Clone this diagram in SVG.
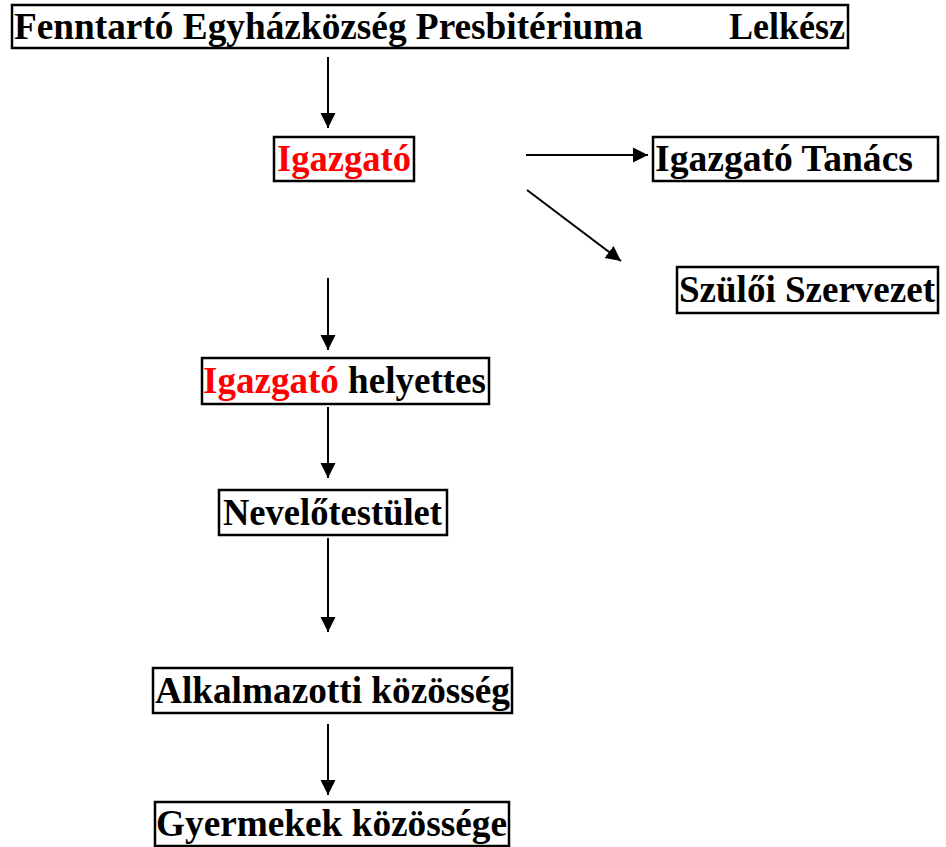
<svg xmlns="http://www.w3.org/2000/svg" width="946" height="847" viewBox="0 0 946 847">
<style>
.box{fill:#fff;stroke:#000;stroke-width:2.5}
.t{font-family:"Liberation Serif","Times New Roman",serif;font-weight:bold;font-size:38px;fill:#000}
.red{fill:#ff0000}
.c{stroke:#000;stroke-width:2;fill:none;marker-end:url(#ah)}
</style>
<defs>
<marker id="ah" markerUnits="userSpaceOnUse" markerWidth="16" markerHeight="16" viewBox="0 0 16 16" refX="15" refY="8" orient="auto">
<path d="M0,0.5 L15,8 L0,15.5 Z" fill="#000"/>
</marker>
</defs>
<rect width="946" height="847" fill="#fff"/>
<g id="connectors">
<line class="c" x1="328" y1="57" x2="328" y2="128"/>
<line class="c" x1="526" y1="155" x2="648" y2="155"/>
<line class="c" x1="527" y1="190" x2="621" y2="261"/>
<line class="c" x1="328" y1="278" x2="328" y2="350"/>
<line class="c" x1="328" y1="407" x2="328" y2="478"/>
<line class="c" x1="328" y1="538" x2="328" y2="632"/>
<line class="c" x1="328" y1="724" x2="328" y2="795"/>
</g>
<g id="fenntarto">
<rect class="box" x="12" y="5" width="836" height="43"/>
<text class="t" y="39"><tspan x="14" textLength="629" lengthAdjust="spacingAndGlyphs">Fenntartó Egyházközség Presbitériuma</tspan><tspan x="729" textLength="116" lengthAdjust="spacingAndGlyphs">Lelkész</tspan></text>
</g>
<g id="igazgato">
<rect class="box" x="274" y="137" width="140" height="44"/>
<text class="t red" x="277" y="171" textLength="134" lengthAdjust="spacingAndGlyphs">Igazgató</text>
</g>
<g id="igazgato-tanacs">
<rect class="box" x="653" y="137" width="285" height="44"/>
<text class="t" x="655" y="171" textLength="258" lengthAdjust="spacingAndGlyphs">Igazgató Tanács</text>
</g>
<g id="szuloi-szervezet">
<rect class="box" x="677" y="267" width="261" height="46"/>
<text class="t" x="679" y="302" textLength="256" lengthAdjust="spacingAndGlyphs">Szülői Szervezet</text>
</g>
<g id="igazgato-helyettes">
<rect class="box" x="202" y="358" width="287" height="46"/>
<text class="t" x="203" y="393" textLength="283" lengthAdjust="spacingAndGlyphs"><tspan class="red">Igazgató</tspan> helyettes</text>
</g>
<g id="nevelotestulet">
<rect class="box" x="219" y="490" width="228" height="45"/>
<text class="t" x="223" y="525" textLength="219" lengthAdjust="spacingAndGlyphs">Nevelőtestület</text>
</g>
<g id="alkalmazotti">
<rect class="box" x="153" y="668" width="359" height="45"/>
<text class="t" x="155" y="703" textLength="355" lengthAdjust="spacingAndGlyphs">Alkalmazotti közösség</text>
</g>
<g id="gyermekek">
<rect class="box" x="155" y="802" width="354" height="44"/>
<text class="t" x="156" y="836" textLength="351" lengthAdjust="spacingAndGlyphs">Gyermekek közössége</text>
</g>
</svg>
